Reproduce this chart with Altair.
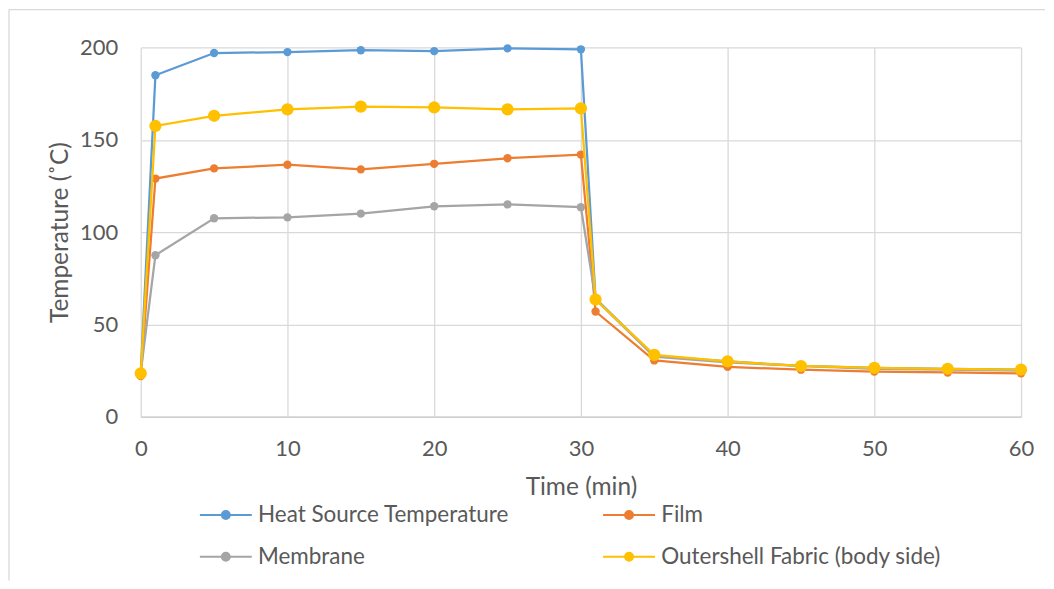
import altair as alt
import pandas as pd

# ---- data ----
times = [0, 1, 5, 10, 15, 20, 25, 30, 31, 35, 40, 45, 50, 55, 60]
heat_source = [24, 185, 197, 197.5, 198.5, 198, 199.5, 199, 64, 33, 30, 27.5, 26.5, 26, 25.5]
film = [22, 129, 134.5, 136.5, 134, 137, 140, 142, 57, 30.5, 27, 25.5, 24.5, 24, 23.5]
membrane = [24, 87.5, 107.5, 108, 110, 114, 115, 113.5, 63.5, 32.5, 29.5, 27.5, 26, 25.5, 25]
outershell = [23.5, 157.5, 163, 166.5, 168, 167.5, 166.5, 167, 63.5, 33.5, 30, 27.5, 26.5, 26, 25.5]

series_names = ["Heat Source Temperature", "Film", "Membrane", "Outershell Fabric (body side)"]
series_colors = ["#5B9BD5", "#ED7D31", "#A5A5A5", "#FFC000"]
marker_sizes = [70, 70, 70, 150]
x_ticks = [0, 10, 20, 30, 40, 50, 60]
y_ticks = [0, 50, 100, 150, 200]

rows = []
for name, vals in zip(series_names, [heat_source, film, membrane, outershell]):
    for t, v in zip(times, vals):
        rows.append({"series": name, "time": t, "temp": v})
df = pd.DataFrame(rows)

TEXT = "#595959"
GRID = "#D9D9D9"
FONT = "Lato"
W, H = 882, 370

legend = alt.Legend(
    title=None,
    orient="none",
    direction="horizontal",
    legendX=74,
    legendY=457,
    columns=2,
    columnPadding=89,
    rowPadding=19,
    padding=0,
    symbolType="M-2.6,0H2.6M0.4,0A0.4,0.4,0,1,1,-0.4,0A0.4,0.4,0,1,1,0.4,0Z",
    symbolSize=400,
    symbolStrokeWidth=2,
    symbolFillColor={"expr": "scale('color', datum.value)"},
    symbolStrokeColor={"expr": "scale('color', datum.value)"},
    symbolOpacity=1,
    labelOffset=21,
    labelFont=FONT,
    labelFontSize=22.5,
    labelColor=TEXT,
    labelLimit=500,
)

color = alt.Color(
    "series:N",
    scale=alt.Scale(domain=series_names, range=series_colors),
    legend=legend,
)
x = alt.X(
    "time:Q",
    scale=alt.Scale(domain=[0, 60], nice=False),
    axis=alt.Axis(values=x_ticks, title="Time (min)", labelPadding=22,
                  labelFlush=False, titlePadding=16, domain=True,
                  domainColor="#CFCFCF", domainWidth=1.5),
)
y = alt.Y(
    "temp:Q",
    scale=alt.Scale(domain=[0, 200], nice=False),
    axis=alt.Axis(values=y_ticks, title="Temperature (˚C)", labelPadding=23,
                  titlePadding=7, domain=False),
)

# chart frame (top and left border lines as in the reference)
frame_df = pd.DataFrame({"k": [0]})
frame_top = alt.Chart(frame_df).mark_rule(color=GRID, strokeWidth=1.3).encode(
    x=alt.value(-132), x2=alt.value(906), y=alt.value(-38)
)
frame_left = alt.Chart(frame_df).mark_rule(color=GRID, strokeWidth=1.3).encode(
    x=alt.value(-132), y=alt.value(-38), y2=alt.value(534)
)

layers = [frame_top, frame_left]
for name, size in zip(series_names, marker_sizes):
    base = alt.Chart(df).transform_filter(alt.datum.series == name).encode(
        x=x, y=y, color=color
    )
    layers.append(base.mark_line(strokeWidth=2.25))
    layers.append(base.mark_point(filled=True, size=size, opacity=1))

chart = (
    alt.layer(*layers)
    .properties(width=W, height=H, padding=0, background="white")
    .configure_view(stroke=None)
    .configure_axis(
        labelFont=FONT,
        labelFontSize=22,
        labelColor=TEXT,
        titleFont=FONT,
        titleFontSize=24.5,
        titleFontWeight="normal",
        titleColor=TEXT,
        gridColor=GRID,
        gridWidth=1.3,
        ticks=False,
    )
)

chart.save("out.html", embed_options={"renderer": "svg", "actions": False})
